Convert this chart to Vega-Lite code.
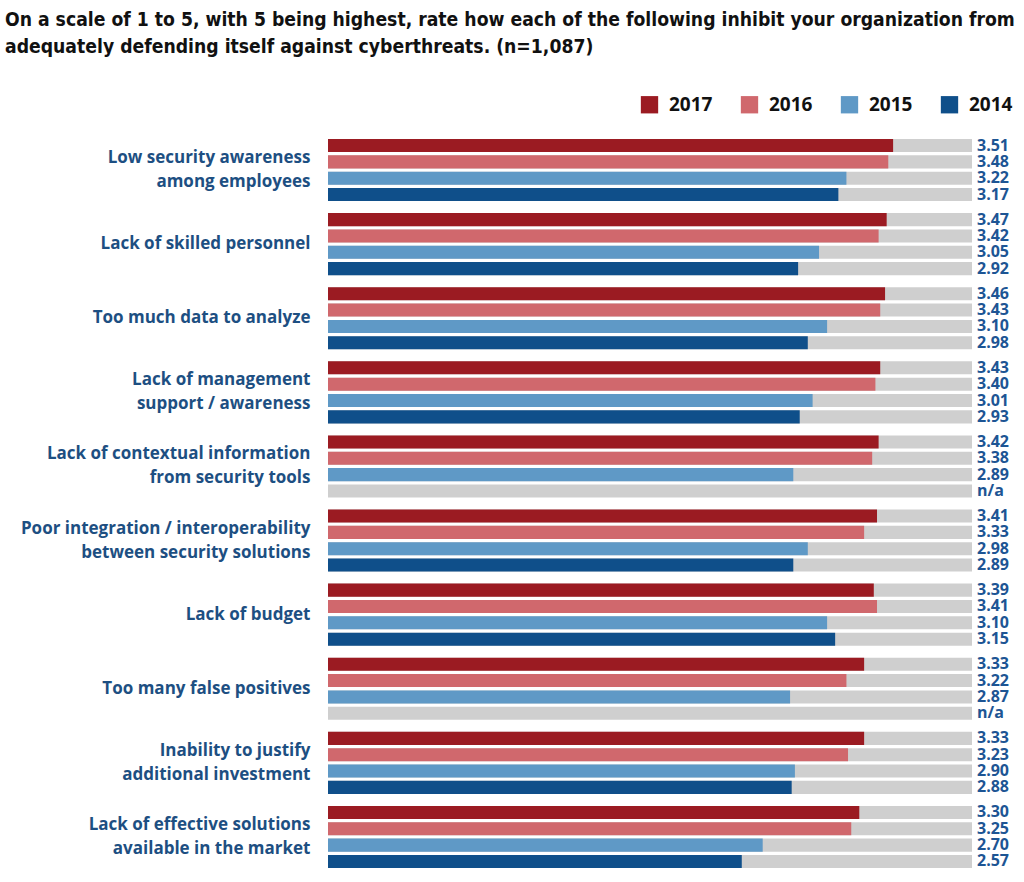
{
  "$schema": "https://vega.github.io/schema/vega-lite/v6.json",
  "autosize": {"type": "none"},
  "padding": {"left": 328, "top": 139, "right": 52, "bottom": 14},
  "width": 644,
  "height": 729,
  "background": "white",
  "title": {
    "text": ["On a scale of 1 to 5, with 5 being highest, rate how each of the following inhibit your organization from", "adequately defending itself against cyberthreats. (n=1,087)"],
    "anchor": "start",
    "frame": "group",
    "dx": -323,
    "offset": 38,
    "font": "DejaVu Sans Condensed",
    "fontSize": 19.2,
    "fontWeight": "bold",
    "lineHeight": 27,
    "color": "#111111"
  },
  "data": {
    "values": [
      {"cat": "Low security awareness|among employees", "year": "2017", "value": 3.51, "label": "3.51"},
      {"cat": "Low security awareness|among employees", "year": "2016", "value": 3.48, "label": "3.48"},
      {"cat": "Low security awareness|among employees", "year": "2015", "value": 3.22, "label": "3.22"},
      {"cat": "Low security awareness|among employees", "year": "2014", "value": 3.17, "label": "3.17"},
      {"cat": "Lack of skilled personnel", "year": "2017", "value": 3.47, "label": "3.47"},
      {"cat": "Lack of skilled personnel", "year": "2016", "value": 3.42, "label": "3.42"},
      {"cat": "Lack of skilled personnel", "year": "2015", "value": 3.05, "label": "3.05"},
      {"cat": "Lack of skilled personnel", "year": "2014", "value": 2.92, "label": "2.92"},
      {"cat": "Too much data to analyze", "year": "2017", "value": 3.46, "label": "3.46"},
      {"cat": "Too much data to analyze", "year": "2016", "value": 3.43, "label": "3.43"},
      {"cat": "Too much data to analyze", "year": "2015", "value": 3.10, "label": "3.10"},
      {"cat": "Too much data to analyze", "year": "2014", "value": 2.98, "label": "2.98"},
      {"cat": "Lack of management|support / awareness", "year": "2017", "value": 3.43, "label": "3.43"},
      {"cat": "Lack of management|support / awareness", "year": "2016", "value": 3.40, "label": "3.40"},
      {"cat": "Lack of management|support / awareness", "year": "2015", "value": 3.01, "label": "3.01"},
      {"cat": "Lack of management|support / awareness", "year": "2014", "value": 2.93, "label": "2.93"},
      {"cat": "Lack of contextual information|from security tools", "year": "2017", "value": 3.42, "label": "3.42"},
      {"cat": "Lack of contextual information|from security tools", "year": "2016", "value": 3.38, "label": "3.38"},
      {"cat": "Lack of contextual information|from security tools", "year": "2015", "value": 2.89, "label": "2.89"},
      {"cat": "Lack of contextual information|from security tools", "year": "2014", "value": null, "label": "n/a"},
      {"cat": "Poor integration / interoperability|between security solutions", "year": "2017", "value": 3.41, "label": "3.41"},
      {"cat": "Poor integration / interoperability|between security solutions", "year": "2016", "value": 3.33, "label": "3.33"},
      {"cat": "Poor integration / interoperability|between security solutions", "year": "2015", "value": 2.98, "label": "2.98"},
      {"cat": "Poor integration / interoperability|between security solutions", "year": "2014", "value": 2.89, "label": "2.89"},
      {"cat": "Lack of budget", "year": "2017", "value": 3.39, "label": "3.39"},
      {"cat": "Lack of budget", "year": "2016", "value": 3.41, "label": "3.41"},
      {"cat": "Lack of budget", "year": "2015", "value": 3.10, "label": "3.10"},
      {"cat": "Lack of budget", "year": "2014", "value": 3.15, "label": "3.15"},
      {"cat": "Too many false positives", "year": "2017", "value": 3.33, "label": "3.33"},
      {"cat": "Too many false positives", "year": "2016", "value": 3.22, "label": "3.22"},
      {"cat": "Too many false positives", "year": "2015", "value": 2.87, "label": "2.87"},
      {"cat": "Too many false positives", "year": "2014", "value": null, "label": "n/a"},
      {"cat": "Inability to justify|additional investment", "year": "2017", "value": 3.33, "label": "3.33"},
      {"cat": "Inability to justify|additional investment", "year": "2016", "value": 3.23, "label": "3.23"},
      {"cat": "Inability to justify|additional investment", "year": "2015", "value": 2.90, "label": "2.90"},
      {"cat": "Inability to justify|additional investment", "year": "2014", "value": 2.88, "label": "2.88"},
      {"cat": "Lack of effective solutions|available in the market", "year": "2017", "value": 3.30, "label": "3.30"},
      {"cat": "Lack of effective solutions|available in the market", "year": "2016", "value": 3.25, "label": "3.25"},
      {"cat": "Lack of effective solutions|available in the market", "year": "2015", "value": 2.70, "label": "2.70"},
      {"cat": "Lack of effective solutions|available in the market", "year": "2014", "value": 2.57, "label": "2.57"}
    ]
  },
  "encoding": {
    "y": {
      "field": "cat",
      "type": "nominal",
      "sort": null,
      "scale": {"paddingInner": 0.162, "paddingOuter": 0},
      "axis": {
        "title": null,
        "ticks": false,
        "domain": false,
        "labelPadding": 18,
        "labelExpr": "split(datum.label, '|')",
        "labelFont": "Open Sans",
        "labelFontSize": 17,
        "labelFontWeight": "bold",
        "labelColor": "#1d4f82",
        "labelLineHeight": 24,
        "labelOffset": {"condition": {"test": "indexof(datum.value, '|') >= 0", "value": -12}, "value": 0},
        "labelLimit": 400
      }
    },
    "yOffset": {
      "field": "year",
      "type": "nominal",
      "scale": {"domain": ["2017", "2016", "2015", "2014"], "paddingInner": 0.2, "paddingOuter": 0}
    }
  },
  "layer": [
    {
      "mark": {"type": "bar", "color": "#cfcfcf"},
      "encoding": {
        "x": {"datum": 4, "type": "quantitative", "scale": {"domain": [0, 4], "nice": false}, "axis": null}
      }
    },
    {
      "mark": {"type": "bar"},
      "encoding": {
        "x": {"field": "value", "type": "quantitative"},
        "color": {
          "field": "year",
          "type": "nominal",
          "scale": {"domain": ["2017", "2016", "2015", "2014"], "range": ["#9b1b22", "#d0686d", "#5f99c6", "#0f4f8a"]},
          "legend": {
            "title": null,
            "orient": "none",
            "direction": "horizontal",
            "legendX": 312,
            "legendY": -44,
            "symbolType": "square",
            "symbolSize": 300,
            "symbolStrokeWidth": 0,
            "labelFont": "Open Sans",
            "labelFontSize": 19,
            "labelFontWeight": "bold",
            "labelColor": "#111111",
            "labelOffset": 10,
            "columnPadding": 27
          }
        }
      }
    },
    {
      "mark": {"type": "text", "align": "left", "baseline": "middle", "dx": 5, "font": "Open Sans", "fontSize": 16, "fontWeight": "bold", "color": "#1d5594"},
      "encoding": {
        "x": {"datum": 4, "type": "quantitative"},
        "text": {"field": "label"}
      }
    }
  ],
  "config": {"view": {"stroke": null}}
}
